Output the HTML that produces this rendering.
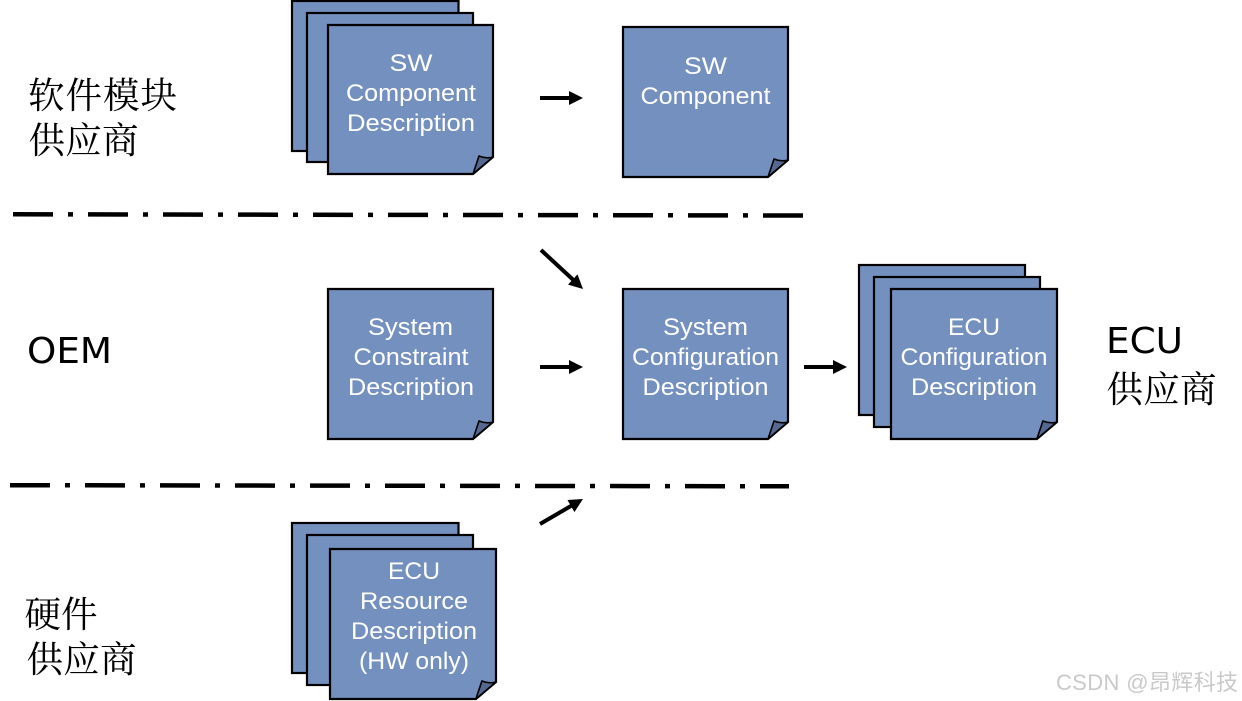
<!DOCTYPE html>
<html>
<head>
<meta charset="utf-8">
<style>
html,body{margin:0;padding:0;background:#fff;width:1242px;height:701px;overflow:hidden}
svg{display:block}
.t{font-family:"Liberation Sans",sans-serif;font-size:24px;fill:#fff;text-anchor:middle}
.c{font-family:"Liberation Serif","Noto Serif CJK SC",serif;font-size:36.5px;fill:#000}
.l{font-family:"DejaVu Sans",sans-serif;font-size:36px;fill:#000}
.w{font-family:"Liberation Sans","Noto Sans CJK SC",sans-serif;font-size:22px;fill:#c9c9c9}
</style>
</head>
<body>
<svg width="1242" height="701" viewBox="0 0 1242 701" xmlns="http://www.w3.org/2000/svg">
<defs>
<g id="doc">
<path d="M0 0H165V132L145 149H0Z" fill="#7490bf" stroke="#000" stroke-width="2.2" stroke-linejoin="miter"/>
<path d="M145 149L151 131Q158 134 165 132Z" fill="#55688f" stroke="#000" stroke-width="1.6" stroke-linejoin="round"/>
</g>
<g id="docT">
<path d="M0 0H165V133L145 150H0Z" fill="#7490bf" stroke="#000" stroke-width="2.2" stroke-linejoin="miter"/>
<path d="M145 150L151 132Q158 135 165 133Z" fill="#55688f" stroke="#000" stroke-width="1.6" stroke-linejoin="round"/>
</g>
<marker id="ah" markerUnits="userSpaceOnUse" markerWidth="16" markerHeight="16" refX="8" refY="7" orient="auto">
<path d="M0 0L14 7L0 14Z" fill="#000"/>
</marker>
</defs>

<!-- stack 1 -->
<rect x="292" y="1" width="166.500" height="150" fill="#7490bf" stroke="#000" stroke-width="2.200"/>
<rect x="307" y="13" width="166" height="149" fill="#7490bf" stroke="#000" stroke-width="2.200"/>
<use href="#doc" x="328" y="25"/>
<text class="t" x="411" y="71" textLength="43" lengthAdjust="spacingAndGlyphs">SW</text>
<text class="t" x="411" y="101" textLength="130" lengthAdjust="spacingAndGlyphs">Component</text>
<text class="t" x="411" y="131" textLength="128" lengthAdjust="spacingAndGlyphs">Description</text>

<!-- SW Component -->
<use href="#docT" x="623" y="27"/>
<text class="t" x="705.500" y="74" textLength="43" lengthAdjust="spacingAndGlyphs">SW</text>
<text class="t" x="705.500" y="104" textLength="130" lengthAdjust="spacingAndGlyphs">Component</text>

<!-- System Constraint -->
<use href="#docT" x="328" y="289"/>
<text class="t" x="410.500" y="335" textLength="85" lengthAdjust="spacingAndGlyphs">System</text>
<text class="t" x="411" y="365" textLength="115" lengthAdjust="spacingAndGlyphs">Constraint</text>
<text class="t" x="411" y="395" textLength="126" lengthAdjust="spacingAndGlyphs">Description</text>

<!-- System Configuration -->
<use href="#docT" x="623" y="289"/>
<text class="t" x="705.500" y="335" textLength="85" lengthAdjust="spacingAndGlyphs">System</text>
<text class="t" x="705.500" y="365" textLength="147" lengthAdjust="spacingAndGlyphs">Configuration</text>
<text class="t" x="705.500" y="395" textLength="126" lengthAdjust="spacingAndGlyphs">Description</text>

<!-- ECU Configuration stack -->
<rect x="859" y="265" width="166" height="150" fill="#7490bf" stroke="#000" stroke-width="2.200"/>
<rect x="874" y="277" width="166" height="150" fill="#7490bf" stroke="#000" stroke-width="2.200"/>
<use href="#docT" transform="translate(891 289) scale(1.006 1)"/>
<text class="t" x="974" y="335" textLength="52" lengthAdjust="spacingAndGlyphs">ECU</text>
<text class="t" x="974" y="365" textLength="147" lengthAdjust="spacingAndGlyphs">Configuration</text>
<text class="t" x="974" y="395" textLength="126" lengthAdjust="spacingAndGlyphs">Description</text>

<!-- ECU Resource stack -->
<rect x="292" y="523" width="166.500" height="150" fill="#7490bf" stroke="#000" stroke-width="2.200"/>
<rect x="307" y="535" width="166" height="150" fill="#7490bf" stroke="#000" stroke-width="2.200"/>
<use href="#docT" transform="translate(330 549) scale(1.006 1)"/>
<text class="t" x="414" y="579" textLength="52" lengthAdjust="spacingAndGlyphs">ECU</text>
<text class="t" x="414" y="609" textLength="108" lengthAdjust="spacingAndGlyphs">Resource</text>
<text class="t" x="414" y="639" textLength="126" lengthAdjust="spacingAndGlyphs">Description</text>
<text class="t" x="414" y="669" textLength="110" lengthAdjust="spacingAndGlyphs">(HW only)</text>

<!-- Separator lines -->
<line x1="13" y1="214.300" x2="803" y2="215.500" stroke="#000" stroke-width="4.500" stroke-dasharray="40 15 5 15"/>
<line x1="10" y1="485.200" x2="789" y2="486.300" stroke="#000" stroke-width="4.500" stroke-dasharray="40 15 5 15"/>

<!-- Arrows -->
<line x1="540" y1="98" x2="577" y2="98" stroke="#000" stroke-width="4" marker-end="url(#ah)"/>
<line x1="541" y1="250" x2="578.600" y2="284.900" stroke="#000" stroke-width="4" marker-end="url(#ah)"/>
<line x1="540" y1="367" x2="577" y2="367" stroke="#000" stroke-width="4" marker-end="url(#ah)"/>
<line x1="804" y1="367" x2="841" y2="367" stroke="#000" stroke-width="4" marker-end="url(#ah)"/>
<line x1="540" y1="524" x2="577.800" y2="502" stroke="#000" stroke-width="4" marker-end="url(#ah)"/>

<!-- Side labels -->
<text class="c" x="28" y="108" textLength="149">软件模块</text>
<text class="c" x="28.500" y="153" textLength="110">供应商</text>
<text class="l" x="27" y="363" textLength="85" lengthAdjust="spacingAndGlyphs">OEM</text>
<text class="l" x="1106" y="353" textLength="77" lengthAdjust="spacingAndGlyphs">ECU</text>
<text class="c" x="1106.500" y="402" textLength="110">供应商</text>
<text class="c" x="24.500" y="627" textLength="73">硬件</text>
<text class="c" x="26.500" y="672" textLength="110">供应商</text>

<!-- Watermark -->
<text class="w" x="1056" y="690" textLength="182">CSDN @昂辉科技</text>
</svg>
</body>
</html>
